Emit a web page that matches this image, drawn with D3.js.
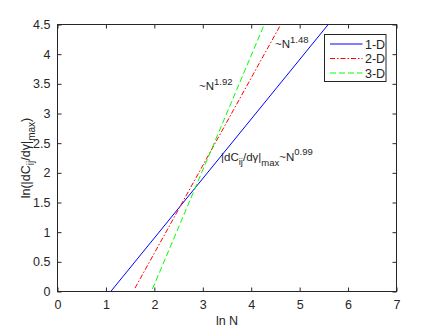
<!DOCTYPE html>
<html>
<head>
<meta charset="utf-8">
<script src="https://cdn.jsdelivr.net/npm/d3@7"></script>
<style>
  body { margin: 0; background: #fff; }
  svg text { font-family: "Liberation Sans", Arial, sans-serif; fill: #262626; }
</style>
</head>
<body>
<div id="chart"></div>
<script>
// Series: fitted lines, two end points each (ln N, ln value)
const series = ['1-D', '2-D', '3-D'];
const lnN1 = [1.10, 5.59];
const val1 = [0, 4.5];
const lnN2 = [1.60, 4.61];
const val2 = [0.057, 4.5];
const lnN3 = [1.96, 4.27];
const val3 = [0.04, 4.5];
const xTicks = [0, 1, 2, 3, 4, 5, 6, 7];
const yTicks = [0, 0.5, 1, 1.5, 2, 2.5, 3, 3.5, 4, 4.5];

const width = 438, height = 328;
const margin = { top: 24.5, right: 41.5, bottom: 36.5, left: 57.5 };
const w = width - margin.left - margin.right;
const h = height - margin.top - margin.bottom;

const svg = d3.select('#chart')
  .append('svg')
  .attr('width', width)
  .attr('height', height);

const g = svg.append('g')
  .attr('transform', `translate(${margin.left},${margin.top})`);

const x = d3.scaleLinear().domain([0, 7]).range([0, w]);
const y = d3.scaleLinear().domain([0, 4.5]).range([h, 0]);

const axisColor = '#262626';
const fmt = d => String(d);

// axes, ticks inward on all four sides
const styleAxis = sel => {
  sel.select('.domain').remove();
  sel.selectAll('line').attr('stroke', axisColor);
  sel.selectAll('text').style('font-size', '12.5px').style('fill', axisColor);
};

g.append('g')
  .attr('transform', `translate(0,${h})`)
  .call(d3.axisBottom(x).tickValues(xTicks).tickFormat(fmt).tickSizeInner(-4).tickSizeOuter(0).tickPadding(9))
  .call(styleAxis);

g.append('g')
  .call(d3.axisTop(x).tickValues(xTicks).tickSizeInner(-4).tickSizeOuter(0).tickFormat(''))
  .call(styleAxis);

g.append('g')
  .call(d3.axisLeft(y).tickValues(yTicks).tickFormat(fmt).tickSizeInner(-4).tickSizeOuter(0).tickPadding(7))
  .call(styleAxis);

g.append('g')
  .attr('transform', `translate(${w},0)`)
  .call(d3.axisRight(y).tickValues(yTicks).tickSizeInner(-4).tickSizeOuter(0).tickFormat(''))
  .call(styleAxis);

g.append('rect')
  .attr('width', w)
  .attr('height', h)
  .attr('fill', 'none')
  .attr('stroke', axisColor)
  .attr('stroke-width', 1);

// lines
const lineData = [
  { name: series[0], xs: lnN1, ys: val1, color: '#0000ff', dash: null },
  { name: series[1], xs: lnN2, ys: val2, color: '#ff0000', dash: '5,2,1.5,2' },
  { name: series[2], xs: lnN3, ys: val3, color: '#00ff00', dash: '6,3' }
];

const line = d3.line().x(d => x(d[0])).y(d => y(d[1]));

g.selectAll('.series')
  .data(lineData)
  .enter()
  .append('path')
  .attr('class', 'series')
  .attr('d', d => line(d.xs.map((v, i) => [v, d.ys[i]])))
  .attr('fill', 'none')
  .attr('stroke', d => d.color)
  .attr('stroke-width', 1)
  .attr('stroke-dasharray', d => d.dash);

// annotations
const ann = svg.append('g').style('font-size', '11.5px');

const t1 = ann.append('text').attr('x', 199).attr('y', 90);
t1.append('tspan').text('~N');
t1.append('tspan').attr('dy', -5).style('font-size', '9.5px').text('1.92');

const t2 = ann.append('text').attr('x', 275).attr('y', 48);
t2.append('tspan').text('~N');
t2.append('tspan').attr('dy', -5).style('font-size', '9.5px').text('1.48');

const t3 = ann.append('text').attr('x', 221).attr('y', 161);
t3.append('tspan').text('|dC');
t3.append('tspan').attr('dy', 4).style('font-size', '9.5px').text('ij');
t3.append('tspan').attr('dy', -4).text('/dγ|');
t3.append('tspan').attr('dy', 5).style('font-size', '9.5px').text('max');
t3.append('tspan').attr('dy', -5).text('~N');
t3.append('tspan').attr('dy', -6).style('font-size', '9.5px').text('0.99');

// axis labels
svg.append('text')
  .attr('x', margin.left + w / 2)
  .attr('y', 325)
  .attr('text-anchor', 'middle')
  .style('font-size', '12.5px')
  .text('ln N');

const yl = svg.append('text')
  .attr('transform', `translate(30,${margin.top + h / 2}) rotate(-90)`)
  .attr('text-anchor', 'middle')
  .style('font-size', '12.5px');
yl.append('tspan').text('ln(|dC');
yl.append('tspan').attr('dy', 4).style('font-size', '10px').text('ij');
yl.append('tspan').attr('dy', -4).text('/dγ|');
yl.append('tspan').attr('dy', 5).style('font-size', '10px').text('max');
yl.append('tspan').attr('dy', -5).text(')');

// legend
const lg = svg.append('g').attr('transform', 'translate(324.5,34.5)');
lg.append('rect')
  .attr('width', 61.5)
  .attr('height', 47)
  .attr('fill', '#fff')
  .attr('stroke', axisColor);

const item = lg.selectAll('.item')
  .data(lineData)
  .enter()
  .append('g')
  .attr('transform', (d, i) => `translate(0,${9.5 + i * 14.5})`);

item.append('line')
  .attr('x1', 5.5).attr('x2', 38)
  .attr('stroke', d => d.color)
  .attr('stroke-width', 1.2)
  .attr('stroke-dasharray', d => d.dash);

item.append('text')
  .attr('x', 40.5)
  .attr('y', 4.5)
  .style('font-size', '12.5px')
  .text(d => d.name);
</script>
</body>
</html>
